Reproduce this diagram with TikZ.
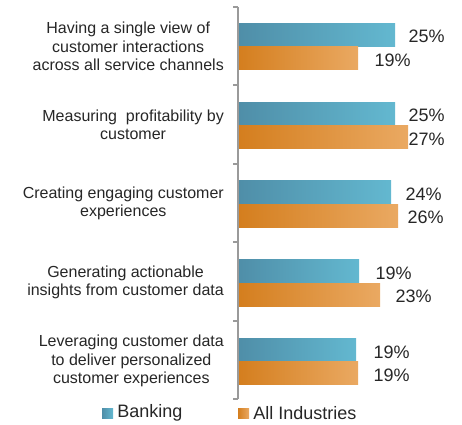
\documentclass[tikz,border=0pt]{standalone}
\usepackage{fontspec}
\setmainfont{Liberation Sans}
\usetikzlibrary{positioning}
\definecolor{bankdark}{HTML}{4F8EA8}
\definecolor{banklight}{HTML}{63B8D0}
\definecolor{alldark}{HTML}{D47E1E}
\definecolor{alllight}{HTML}{EAA962}
\definecolor{axisgray}{HTML}{9A9A9A}
\definecolor{txtgray}{HTML}{262626}
\tikzset{
    % bars
    bankbar/.style={
           rectangle,
           inner sep=0pt,
           minimum height=23pt,
           anchor=north west,
           left color=bankdark, right color=banklight},
    allbar/.style={
           bankbar,
           left color=alldark, right color=alllight},
    % texts
    valtext/.style={
           anchor=west,
           inner sep=0pt,
           yshift=-2pt,
           text=txtgray,
           font=\fontsize{18}{20}\selectfont},
    cattext/.style={
           anchor=east,
           inner sep=0pt,
           align=center,
           text=txtgray,
           font=\fontsize{16}{18.3}\selectfont},
    % legend
    legbox/.style={
           rectangle,
           inner sep=0pt,
           minimum width=11pt,
           minimum height=10pt},
    % axis
    axisline/.style={draw=axisgray, line width=2pt}
}

\begin{document}
\begin{tikzpicture}[x=1pt, y=-1pt]
	\useasboundingbox (0,0) rectangle (462,424);
	%
	% bars and labels
	%
	\foreach \i/\bl/\al/\bg/\ag/\txt in {
	    0/157/120/13/16/{Having a single view of\\customer interactions\\across all service channels},
	    1/157/170/13/0/{Measuring\ \ profitability by\\customer},
	    2/153/160/14/9/{Creating engaging customer\\experiences},
	    3/121/142/16/15/{Generating actionable\\insights from customer data},
	    4/118/120/17/15/{Leveraging customer data\\to deliver personalized\\customer experiences}}{
	  \node[bankbar, minimum width=\bl pt] (b\i) at (238, 23+78.8*\i) {};
	  \node[allbar, minimum width=\al pt, below=0pt of b\i.south west, anchor=north west] (a\i) {};
	  \node[valtext, right=\bg pt of b\i] (vb\i) {\pgfmathparse{int(round(\bl/6.3))}\pgfmathresult\%};
	  \node[cattext] (c\i) at (224, 46.5+78.6*\i) {\txt};
	}
	% value labels (as printed)
	\node[valtext, right=16pt of a0] (va0) {19\%};
	\node[valtext, right=0pt of a1] (va1) {27\%};
	\node[valtext, right=9pt of a2] (va2) {26\%};
	\node[valtext, right=15pt of a3] (va3) {23\%};
	\node[valtext, right=15pt of a4] (va4) {19\%};
	%
	% axis
	%
	\draw[axisline] (238,7) -- (238,399);
	\foreach \k in {0,...,5}
	  \draw[axisline] (233,7+78.4*\k) -- (238,7+78.4*\k);
	%
	% legend
	%
	\node[legbox, left color=bankdark, right color=banklight] (legb) at (107.5,413) {};
	\node[valtext, yshift=2pt, right=4pt of legb] (legbt) {Banking};
	\node[legbox, left color=alldark, right color=alllight] (lega) at (243.5,413) {};
	\node[valtext, yshift=2pt, right=4pt of lega] (legat) {All Industries};
\end{tikzpicture}
\end{document}
